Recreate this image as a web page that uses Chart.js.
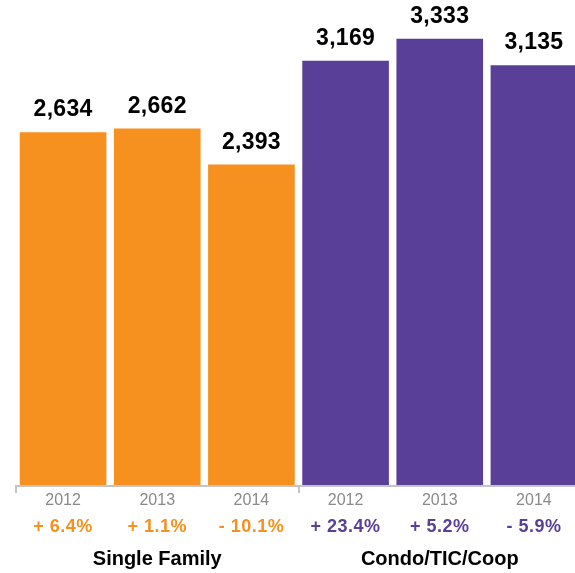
<!DOCTYPE html>
<html>
<head>
<meta charset="utf-8">
<script src="https://cdn.jsdelivr.net/npm/chart.js@4"></script>
<style>
html,body{margin:0;padding:0;background:#fff;overflow:hidden;width:575px;height:573px;}
canvas{display:block;}
</style>
</head>
<body>
<canvas id="c" width="581" height="573" style="width:581px;height:573px"></canvas>
<script>
const years = ['2012','2013','2014','2012','2013','2014'];
const values = [2634, 2662, 2393, 3169, 3333, 3135];
const pctLabels = ['+ 6.4%', '+ 1.1%', '- 10.1%', '+ 23.4%', '+ 5.2%', '- 5.9%'];
const groups = ['Single Family', 'Condo/TIC/Coop'];
const groupOf = [0, 0, 0, 1, 1, 1];
const groupColors = ['#F6901E', '#5A3F98'];

const FONT = '"Liberation Sans", Arial, Helvetica, sans-serif';

const overlay = {
  id: 'overlay',
  afterDatasetsDraw(chart) {
    const ctx = chart.ctx;
    const x = chart.scales.x;
    const meta = chart.getDatasetMeta(0);
    const area = chart.chartArea;
    ctx.save();
    ctx.textAlign = 'center';
    ctx.textBaseline = 'alphabetic';
    // value labels
    ctx.fillStyle = '#000';
    ctx.font = 'bold 23px ' + FONT;
    ctx.letterSpacing = '0.3px';
    meta.data.forEach((bar, i) => {
      ctx.fillText(values[i].toLocaleString('en-US'), bar.x, bar.y - 16);
    });
    // axis line
    const step = x.getPixelForValue(1) - x.getPixelForValue(0);
    const y0 = area.bottom + 1;
    ctx.strokeStyle = '#C4C4C4';
    ctx.lineWidth = 2;
    ctx.beginPath();
    ctx.moveTo(area.left - 1, y0);
    ctx.lineTo(area.right, y0);
    [0, 3].forEach(i => {
      const bx = Math.round(x.getPixelForValue(i) - step / 2);
      ctx.moveTo(bx, y0);
      ctx.lineTo(bx, y0 + 7);
    });
    ctx.stroke();
    // year labels
    ctx.font = '16px ' + FONT;
    ctx.letterSpacing = '0px';
    ctx.fillStyle = '#8A8A8A';
    years.forEach((yr, i) => ctx.fillText(yr, x.getPixelForValue(i), area.bottom + 20));
    // pct labels
    ctx.font = 'bold 18px ' + FONT;
    ctx.letterSpacing = '0.5px';
    pctLabels.forEach((p, i) => {
      ctx.fillStyle = groupColors[groupOf[i]];
      ctx.fillText(p, x.getPixelForValue(i), area.bottom + 47);
    });
    // group labels
    ctx.font = 'bold 20px ' + FONT;
    ctx.letterSpacing = '0px';
    ctx.fillStyle = '#000';
    groups.forEach((g, gi) => {
      const idx = groupOf.map((v, i) => v === gi ? i : -1).filter(i => i >= 0);
      const cx = (x.getPixelForValue(idx[0]) + x.getPixelForValue(idx[idx.length - 1])) / 2;
      ctx.fillText(g, cx, area.bottom + 80);
    });
    ctx.restore();
  }
};

new Chart(document.getElementById('c'), {
  type: 'bar',
  data: {
    labels: years.map((y, i) => y + '-' + i),
    datasets: [{
      data: values,
      backgroundColor: values.map((v, i) => groupColors[groupOf[i]]),
      borderWidth: 0,
      barPercentage: 0.92,
      categoryPercentage: 1.0
    }]
  },
  options: {
    responsive: false,
    animation: false,
    devicePixelRatio: 1,
    layout: { padding: { left: 16, right: 0, top: 3, bottom: 88 } },
    plugins: { legend: { display: false }, tooltip: { enabled: false } },
    scales: {
      x: { display: false, offset: true },
      y: { display: false, min: 0, max: 3600 }
    }
  },
  plugins: [overlay]
});
</script>
</body>
</html>
